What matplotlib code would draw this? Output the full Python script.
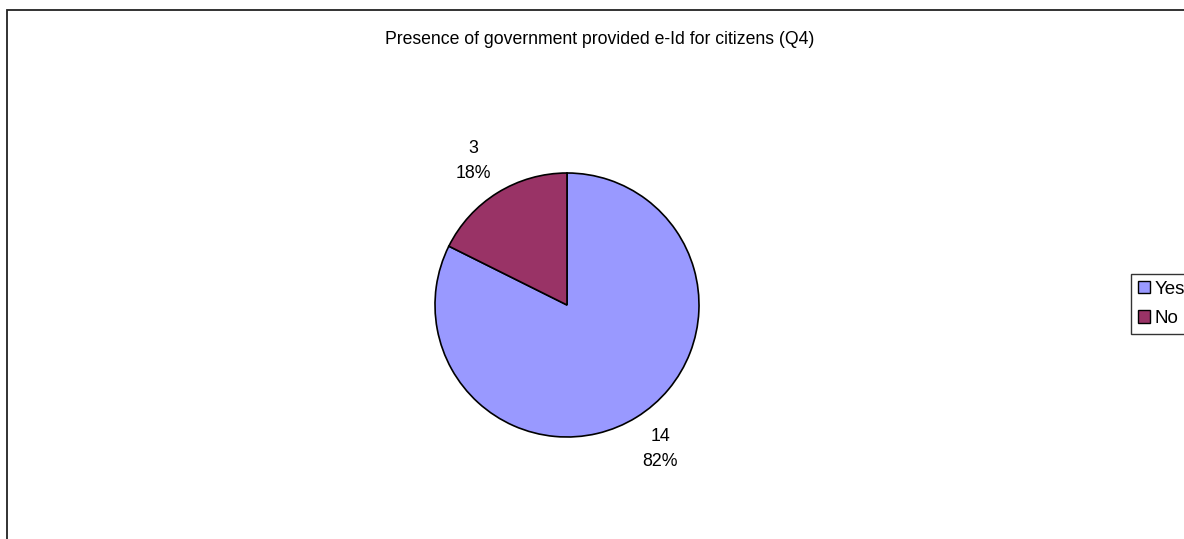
import matplotlib.pyplot as plt
from matplotlib.patches import Rectangle

plt.rcParams['font.family'] = ['Liberation Sans', 'DejaVu Sans']

categories = ['Yes', 'No']
counts = [14, 3]
percents = [82, 18]
colors = ['#9999FF', '#993366']
title = 'Presence of government provided e-Id for citizens (Q4)'

W, H = 1184, 539
fig = plt.figure(figsize=(W / 100, H / 100), dpi=100)

# outer chart border (runs off the right and bottom edges)
fig.patches.append(Rectangle((7 / W, -0.02), 1.05, 1 - 10 / H + 0.02,
                             transform=fig.transFigure, fill=False,
                             edgecolor='#222222', linewidth=1.3))

cx, cy, r = 567, 305, 132
ax = fig.add_axes([(cx - r) / W, (H - cy - r) / H, 2 * r / W, 2 * r / H])

labels = [f'{c}\n{p}%' for c, p in zip(counts, percents)]
wedges, texts = ax.pie(counts, colors=colors, startangle=90, counterclock=False,
                       labels=labels, labeldistance=1.28,
                       wedgeprops=dict(edgecolor='black', linewidth=1.2),
                       textprops=dict(fontsize=12.8, linespacing=1.6))
for t in texts:
    x, y = t.get_position()
    t.set_position((x * 1.05, y))
    t.set_ha('center')
    t.set_va('center')
ax.set_xlim(-1, 1)
ax.set_ylim(-1, 1)

fig.text(600 / W, 1 - 39 / H, title, ha='center', va='center', fontsize=12.7)

leg = fig.legend(wedges, categories, loc='upper left',
                 bbox_to_anchor=(1131 / W, 1 - 274 / H),
                 fontsize=13.5, frameon=True, fancybox=False,
                 edgecolor='black', handlelength=0.65, handleheight=0.65,
                 handletextpad=0.25, borderpad=0.35, labelspacing=0.66,
                 borderaxespad=0)
leg.get_frame().set_linewidth(1.0)
for h in leg.legend_handles:
    h.set_edgecolor('black')
    h.set_linewidth(1.0)

fig.savefig('out.png', dpi=100)
